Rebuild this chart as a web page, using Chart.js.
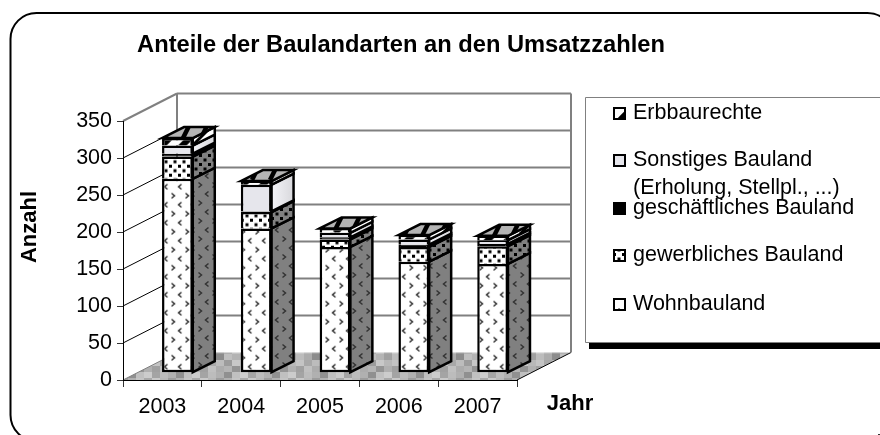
<!DOCTYPE html>
<html><head><meta charset="utf-8">
<style>html,body{margin:0;padding:0;background:#fff;overflow:hidden}canvas{display:block}</style>
<script src="https://cdn.jsdelivr.net/npm/chart.js@4"></script></head>
<body><canvas id="c" width="880" height="435"></canvas>
<script>
const years = ['2003','2004','2005','2006','2007'];
const wohnbauland = [262,195,170,150,147];
const gewerblich = [30,22,10,20,24];
const geschaeftlich = [4,1,3,3,3];
const sonstiges = [11,36,6,7,5];
const erbbaurechte = [10,5,6,6,6];
const yTicks = [0,50,100,150,200,250,300,350];
const titleText = 'Anteile der Baulandarten an den Umsatzzahlen';
const yTitle = 'Anzahl', xTitle = 'Jahr';
const legendRows = [
  {lines:['Erbbaurechte'], ds:4},
  {lines:['Sonstiges Bauland','(Erholung, Stellpl., ...)'], ds:3},
  {lines:['geschäftliches Bauland'], ds:2},
  {lines:['gewerbliches Bauland'], ds:1},
  {lines:['Wohnbauland'], ds:0}
];
const FONT = '"Liberation Sans"';
const floorGreys = ['#b8b8b8','#c4c4c4','#a8a8a8','#bcbcbc','#9c9c9c','#c8c8c8','#b0b0b0','#a0a0a0','#c0c0c0','#acacac','#b4b4b4','#949494','#cccccc','#a4a4a4','#bcbcbc','#b0b0b0','#909090','#c0c0c0','#a8a8a8','#c8c8c8','#b8b8b8','#9c9c9c','#b0b0b0','#c4c4c4','#a0a0a0','#bcbcbc','#acacac','#8c8c8c','#c0c0c0','#b4b4b4'];

function tile(w,h,fn){const c=document.createElement('canvas');c.width=w;c.height=h;const x=c.getContext('2d');fn(x);return document.createElement('canvas').getContext('2d').createPattern(c,'repeat');}
function chev(x,px,py,dir){x.beginPath();x.moveTo(px-dir*1.5,py-2.5);x.lineTo(px+dir*1.5,py);x.lineTo(px-dir*1.5,py+2.5);x.stroke();}
function wohnPat(bg){return tile(28,36,x=>{x.fillStyle=bg;x.fillRect(0,0,28,36);x.strokeStyle='#333';x.lineWidth=1.5;
  chev(x,4,5,1);chev(x,18,5,1);chev(x,11,14,-1);chev(x,25,14,-1);chev(x,4,23,1);chev(x,18,23,1);chev(x,11,32,-1);chev(x,25,32,-1);});}
function gewPat(bg){return tile(9,9,x=>{x.fillStyle=bg;x.fillRect(0,0,9,9);x.fillStyle='#000';x.fillRect(1,1,3,3);x.fillRect(5.5,5.5,3,3);});}
function stripe(a,b,n,m){return tile(n,n,x=>{x.fillStyle=a;x.fillRect(0,0,n,n);x.strokeStyle=b;x.lineWidth=m;
  for(let i=-n;i<=2*n;i+=n){x.beginPath();x.moveTo(i,n);x.lineTo(i+n,0);x.stroke();}});}
function steep(a,b,n,m){return tile(n,n,x=>{x.fillStyle=a;x.fillRect(0,0,n,n);x.strokeStyle=b;x.lineWidth=m;
  for(let i=-n;i<=2*n;i+=n){x.beginPath();x.moveTo(i,n);x.lineTo(i+n/2,0);x.moveTo(i+n/2,n);x.lineTo(i+n,0);x.stroke();}});}
const fills = [wohnPat('#ffffff'),gewPat('#ffffff'),'#000000','#e6e6ec',stripe('#ffffff','#000000',20,6)];
const sides = [wohnPat('#808080'),gewPat('#808080'),'#000000',null,stripe('#ffffff','#000000',26,3)];
const topFill = steep('#b4b4b4','#000000',36,4.5);
const floorPat = tile(48,30,x=>{floorGreys.forEach((g,i)=>{x.fillStyle=g;x.fillRect((i%6)*8,Math.floor(i/6)*6,8,6);});});

const DX=54, DY=-27.5, BX=15, BY=-7.3, SX=22, SY=-11, LW=2.5;

function poly(ctx,pts,fill,stroke,lw){ctx.beginPath();pts.forEach((p,i)=>i?ctx.lineTo(p[0],p[1]):ctx.moveTo(p[0],p[1]));ctx.closePath();
  if(fill){ctx.fillStyle=fill;ctx.fill();} if(stroke){ctx.strokeStyle=stroke;ctx.lineWidth=lw;ctx.stroke();}}
function line(ctx,a,b,c,d,col,lw){ctx.beginPath();ctx.moveTo(a,b);ctx.lineTo(c,d);ctx.strokeStyle=col;ctx.lineWidth=lw;ctx.stroke();}

const scene = {
  id:'scene',
  beforeDraw(chart){
    const ctx=chart.ctx, A=chart.chartArea, Y=chart.scales.y;
    ctx.save();
    ctx.fillStyle='#fff';ctx.fillRect(0,0,880,435);
    ctx.beginPath();ctx.roundRect(10.5,13,883,428,26);ctx.strokeStyle='#000';ctx.lineWidth=2;ctx.stroke();
    ctx.fillStyle='#333';ctx.fillRect(878,434,2,1);
    poly(ctx,[[A.left,A.bottom],[A.left+DX,A.bottom+DY],[A.right+DX,A.bottom+DY],[A.right,A.bottom]],floorPat);
    line(ctx,A.right,A.bottom,A.right+DX,A.bottom+DY,'#000',1);
    line(ctx,A.left,A.bottom,A.left+DX,A.bottom+DY,'#808080',1);
    yTicks.forEach(v=>{const y=Y.getPixelForValue(v);
      if(v>0) line(ctx,A.left+DX,y+DY,A.right+DX,y+DY,'#808080',2);
      if(v>0) line(ctx,A.left,y,A.left+DX,y+DY,v===350?'#808080':'#000',v===350?2:1);
    });
    line(ctx,A.left+DX,A.top+DY,A.left+DX,A.bottom+DY,'#808080',2);
    line(ctx,A.right+DX,A.top+DY,A.right+DX,A.bottom+DY,'#808080',2);
    ctx.fillStyle='#000';ctx.fillRect(589,342,291,7);
    ctx.fillStyle='#fff';ctx.fillRect(585,97,295,245);
    ctx.strokeStyle='#808080';ctx.lineWidth=1;ctx.beginPath();ctx.moveTo(880,97.5);ctx.lineTo(585.5,97.5);ctx.lineTo(585.5,342.5);ctx.lineTo(880,342.5);ctx.stroke();
    const ys=[[113],[160,188],[208],[255],[304]];
    legendRows.forEach((r,i)=>{
      const my=ys[i][0];
      ctx.fillStyle='#fff';ctx.fillRect(614,my-5,11,11);
      ctx.fillStyle=fills[r.ds];ctx.fillRect(614,my-5,11,11);
      ctx.strokeStyle='#000';ctx.lineWidth=2;ctx.strokeRect(614,my-5,11,11);
      ctx.fillStyle='#000';ctx.font='21.5px '+FONT;ctx.textBaseline='middle';ctx.textAlign='left';
      r.lines.forEach((t,j)=>ctx.fillText(t,633,ys[i][j]));
    });
    ctx.fillStyle='#000';ctx.textAlign='center';ctx.textBaseline='middle';
    ctx.font='bold 23.7px '+FONT;ctx.fillText(titleText,401,45);
    ctx.font='bold 22px '+FONT;ctx.fillText(xTitle,570,404);
    ctx.save();ctx.translate(30,227);ctx.rotate(-Math.PI/2);ctx.font='bold 22px '+FONT;ctx.fillText(yTitle,0,0);ctx.restore();
    ctx.restore();
  },
  beforeDatasetsDraw(chart){
    const ctx=chart.ctx;
    ctx.save();
    chart.data.datasets.forEach((ds,di)=>{
      chart.getDatasetMeta(di).data.forEach(el=>{
        const r=el.x+el.width/2+BX, t=el.y+BY, b=el.base+BY;
        let f=sides[di];
        if(!f){f=ctx.createLinearGradient(r,0,r+SX,0);f.addColorStop(0,'#f4f4f8');f.addColorStop(1,'#d8d8dc');}
        poly(ctx,[[r,t],[r+SX,t+SY],[r+SX,b+SY],[r,b]],f,'#000',LW);
      });
    });
    const last=chart.data.datasets.length-1;
    chart.getDatasetMeta(last).data.forEach(el=>{
      const l=el.x-el.width/2+BX, r=el.x+el.width/2+BX, t=el.y+BY;
      poly(ctx,[[l,t],[l+SX,t+SY],[r+SX,t+SY],[r,t]],topFill,'#000',LW);
    });
    ctx.restore();
  },
  beforeDatasetDraw(chart){chart.ctx.save();chart.ctx.translate(BX,BY);},
  afterDatasetDraw(chart){chart.ctx.restore();}
};

const mk=(label,data,i)=>({label,data,backgroundColor:fills[i],borderColor:'#000',
  borderWidth:{top:LW,left:LW,right:LW,bottom:i===0?LW:0},borderSkipped:false,clip:false,barPercentage:0.39,categoryPercentage:1});
new Chart(document.getElementById('c'),{
  type:'bar',
  data:{labels:years,datasets:[
    mk('Wohnbauland',wohnbauland,0),
    mk('gewerbliches Bauland',gewerblich,1),
    mk('geschäftliches Bauland',geschaeftlich,2),
    mk('Sonstiges Bauland (Erholung, Stellpl., ...)',sonstiges,3),
    mk('Erbbaurechte',erbbaurechte,4)
  ]},
  plugins:[scene],
  options:{
    responsive:false,animation:false,
    layout:{padding:{left:0,top:121,right:363,bottom:0}},
    plugins:{legend:{display:false},title:{display:false},tooltip:{enabled:false}},
    scales:{
      x:{stacked:true,offset:true,
        afterFit(s){s.height=55;},
        grid:{drawOnChartArea:false,drawTicks:true,tickLength:7,tickColor:'#333',offset:true},
        border:{color:'#000',width:1},
        ticks:{color:'#000',font:{family:FONT,size:21.5},padding:7,autoSkip:false,maxRotation:0}},
      y:{stacked:true,min:0,max:350,
        afterBuildTicks(s){s.ticks=yTicks.map(v=>({value:v}));},
        afterFit(s){s.width=123;},
        grid:{drawOnChartArea:false,drawTicks:true,tickLength:6,tickColor:'#333'},
        border:{color:'#000',width:1},
        ticks:{color:'#000',font:{family:FONT,size:21.5},padding:5}}
    }
  }
});
</script></body></html>
